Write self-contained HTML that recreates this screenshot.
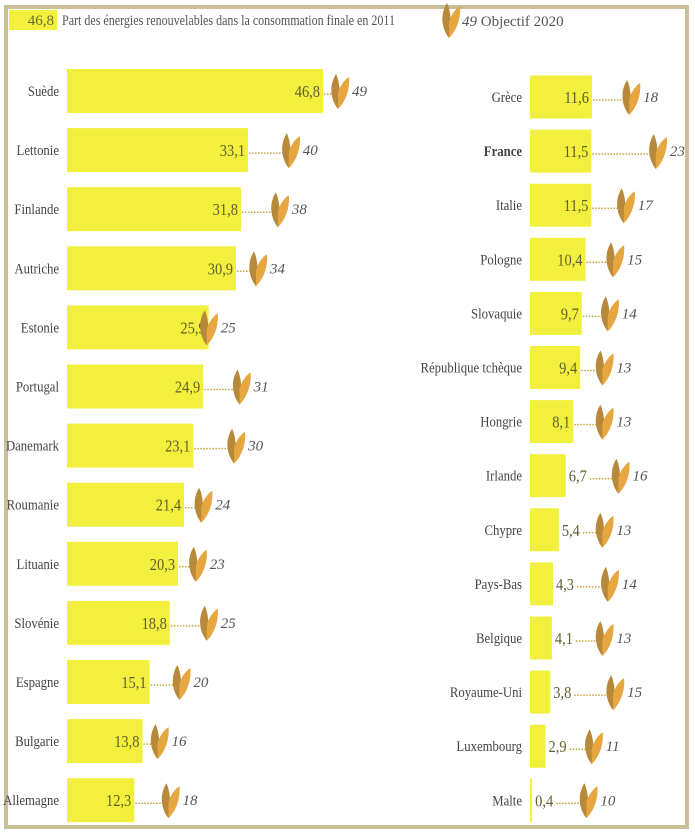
<!DOCTYPE html>
<html><head><meta charset="utf-8">
<style>
html,body{margin:0;padding:0;background:#fff;}
svg{display:block;font-family:"Liberation Serif",serif;}
</style></head>
<body>
<svg id="chart" width="695" height="833" viewBox="0 0 695 833" xmlns="http://www.w3.org/2000/svg">
<defs>
<g id="leaf">
<path d="M-1,-17 C-8,-6 -7,8 1,18 C3,8 4,-6 -1,-17Z" fill="#b8893a"/>
<path d="M1,2 C4,-8 10,-13 12,-14 C13,-2 9,10 1,18Z" fill="#e6a640"/>
</g>
</defs>
<rect x="6" y="7" width="681" height="820" fill="none" stroke="#c9c09a" stroke-width="4"/>
<g>
<rect x="9" y="10" width="48" height="20" fill="#f2f03c"/>
<text x="54" y="25" text-anchor="end" font-size="15" fill="#6a6a30">46,8</text>
<text x="62" y="25" font-size="15" fill="#555" textLength="333" lengthAdjust="spacingAndGlyphs">Part des énergies renouvelables dans la consommation finale en 2011</text>
<use href="#leaf" x="448" y="20"/>
<text x="462" y="26" font-size="15" fill="#555"><tspan font-style="italic">49</tspan> Objectif 2020</text>
</g>
<g id="left"></g>
<g id="right"></g>
</svg>
<script>
const leftCountries=["Suède","Lettonie","Finlande","Autriche","Estonie","Portugal","Danemark","Roumanie","Lituanie","Slovénie","Espagne","Bulgarie","Allemagne"];
const leftValues=[46.8,33.1,31.8,30.9,25.9,24.9,23.1,21.4,20.3,18.8,15.1,13.8,12.3];
const leftTargets=[49,40,38,34,25,31,30,24,23,25,20,16,18];
const rightCountries=["Grèce","France","Italie","Pologne","Slovaquie","République tchèque","Hongrie","Irlande","Chypre","Pays-Bas","Belgique","Royaume-Uni","Luxembourg","Malte"];
const rightValues=[11.6,11.5,11.5,10.4,9.7,9.4,8.1,6.7,5.4,4.3,4.1,3.8,2.9,0.4];
const rightTargets=[18,23,17,15,14,13,13,16,13,14,13,15,11,10];
const NS="http://www.w3.org/2000/svg";
function mk(p,tag,attrs){const e=document.createElementNS(NS,tag);for(const k in attrs)e.setAttribute(k,attrs[k]);p.appendChild(e);return e;}
const fmt=v=>v.toFixed(1).replace('.',',');
function panel(gid,countries,values,targets,x0,scale,y0,pitch,bh){
  const g=document.getElementById(gid);
  const xs=v=>x0+v*scale;
  const yc=i=>y0+i*pitch;
  countries.forEach((c,i)=>{
    const y=yc(i),v=values[i],t=targets[i];
    const lab=mk(g,'text',{x:0,y:0,transform:'translate('+(x0-8)+','+(y+5)+') scale(0.85,1)','text-anchor':'end','font-size':15,fill:'#444','font-weight':c==='France'?'bold':'normal'});
    
    
    lab.textContent=c;
    const bar=mk(g,'rect',{x:x0,y:y-bh/2,width:Math.max(2,xs(v)-x0),height:bh,fill:'#f2f03c'});
    
    
    const inside=v>=7;
    const vx=inside?xs(v)-3:xs(v)+3;
    const vt=mk(g,'text',{x:0,y:0,transform:'translate('+vx+','+(y+6)+') scale(0.85,1)','text-anchor':inside?'end':'start','font-size':17,fill:'#5e5e30'});
    
    
    vt.textContent=fmt(v);
    const lx0=inside?xs(v)+1:xs(v)+24;
    const lx1=xs(t)-2;
    if(lx1>lx0){const ln=mk(g,'line',{x1:lx0,y1:y+3,x2:lx1,y2:y+3,stroke:'#c9a43a','stroke-width':1.5,'stroke-dasharray':'1.5 1.5'});
      
      }
    const lf=mk(g,'use',{href:'#leaf',x:xs(t)+2,y:y});
    
    
    const tt=mk(g,'text',{x:xs(t)+17,y:y+5,'font-size':15,'font-style':'italic',fill:'#555'});
    
    
    tt.textContent=t;
  });
}
panel('left',leftCountries,leftValues,leftTargets,67,5.47,91,59.1,44);
panel('right',rightCountries,rightValues,rightTargets,530,5.34,97,54.1,43);
</script>
</body></html>
